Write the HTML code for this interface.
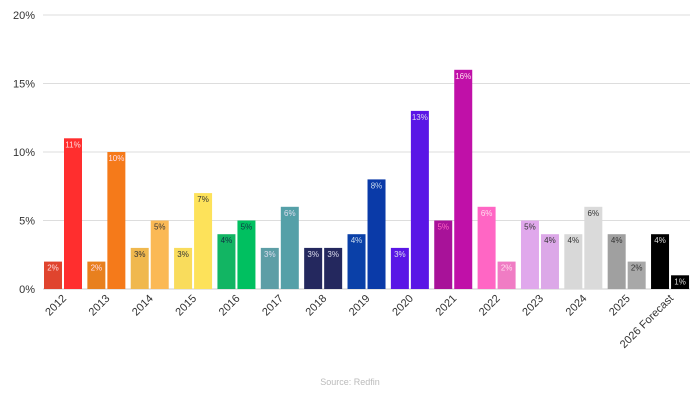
<!DOCTYPE html>
<html><head><meta charset="utf-8"><style>
html,body{margin:0;padding:0;background:#fff;width:700px;height:400px;overflow:hidden;font-family:"Liberation Sans",sans-serif}
</style></head><body>
<svg id="chart" width="700" height="400"></svg>
<script>
const categories=["2012","2013","2014","2015","2016","2017","2018","2019","2020","2021","2022","2023","2024","2025","2026 Forecast"];
const seriesA=[2,2,3,3,4,3,3,4,3,5,6,5,4,4,4];
const seriesB=[11,10,5,7,5,6,3,8,13,16,2,4,6,2,1];
const yTicks=[0,5,10,15,20];
const colorsA=["#e0442e","#e8801e","#f0b84e","#f9dc5c","#12b563","#5d9ea6","#24285e","#0a40a8","#5a16e6","#a81299","#ff66c4","#e0a8ec","#d8d8d8","#a0a0a0","#000000"];
const colorsB=["#ff2e2e","#f57a1a","#fbb955","#fde25a","#00c060","#55a0a8","#24285e","#0a3aa8","#5a16e6","#c010a8","#f07cc4","#dca8e8","#dadada","#a8a8a8","#000000"];
const textA=["#fdd","#fde","#333","#333","#134","#dde","#dde","#cde","#dde","#ff66c4","#fde","#333","#333","#333","#ddd"];
const textB=["#fdd","#fde","#333","#333","#134","#dde","#dde","#cde","#dde","#fde","#fde","#333","#333","#333","#ddd"];
const svg=document.getElementById('chart');
const NS="http://www.w3.org/2000/svg";
const y0=289, pxPer=13.7, x0=44, pitch=43.36, bw=18, gap=2;
const y=v=>y0-v*pxPer;
const gx=i=>x0+i*pitch;
function mk(t,a){const e=document.createElementNS(NS,t);for(const k in a)e.setAttribute(k,a[k]);svg.appendChild(e);return e;}
yTicks.forEach(t=>{
  const l=mk('line',{x1:43,x2:690,y1:y(t),y2:y(t),stroke:t===0?'#ccc':'#ddd','stroke-width':1});
  
  
  const tx=mk('text',{x:35,y:y(t)+4,'text-anchor':'end','font-size':11,fill:'#333'});
  tx.textContent=t+'%';
  
  
});
categories.forEach((c,i)=>{
  [[seriesA,colorsA,textA,0],[seriesB,colorsB,textB,1]].forEach(([s,col,tc,k])=>{
    const v=s[i], bx=gx(i)+k*(bw+gap);
    const r=mk('rect',{x:bx,y:y(v),width:bw,height:v*pxPer,fill:col[i]});
    
    
    const t=mk('text',{x:bx+bw/2,y:y(v)+9,'text-anchor':'middle','font-size':8,fill:tc[i]});
    t.textContent=v+'%';
    
    
  });
  const cx=gx(i)+bw+gap/2+4, cy=299;
  const t=mk('text',{x:cx,y:cy,'text-anchor':'end','font-size':11,fill:'#333',transform:`rotate(-45 ${cx} ${cy})`});
  t.textContent=c;
  
  
});
const s=mk('text',{x:350,y:385,'text-anchor':'middle','font-size':9,fill:'#bbb'});
s.textContent='Source: Redfin';


</script>
</body></html>
